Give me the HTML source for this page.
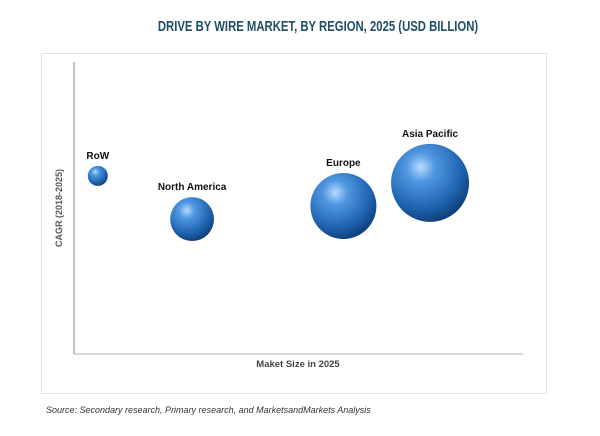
<!DOCTYPE html>
<html><head><meta charset="utf-8"><style>
body{margin:0;background:#fff;width:600px;height:431px;overflow:hidden;font-family:"Liberation Sans",sans-serif}
</style></head><body>
<svg width="600" height="431" viewBox="0 0 600 431" xmlns="http://www.w3.org/2000/svg">
<defs>
<radialGradient id="ball" cx="0.38" cy="0.3" r="0.75">
<stop offset="0" stop-color="#b9dcff"/>
<stop offset="0.25" stop-color="#4f97e0"/>
<stop offset="0.7" stop-color="#1f63b0"/>
<stop offset="1" stop-color="#0d3a73"/>
</radialGradient>
</defs>
<text x="318" y="31" text-anchor="middle" font-size="15" font-weight="bold" fill="#1f4e66" transform="translate(318 0) scale(0.755 1) translate(-318 0)">DRIVE BY WIRE MARKET, BY REGION, 2025 (USD BILLION)</text>
<rect x="41.5" y="53.5" width="505" height="340" fill="#fff" stroke="#e2e2e2"/>
<line x1="74" y1="62" x2="74" y2="354" stroke="#888"/>
<line x1="74" y1="354" x2="523" y2="354" stroke="#ccc" stroke-width="1.5"/>
<text x="0" y="0" transform="translate(62 208) rotate(-90)" text-anchor="middle" font-size="9" font-weight="bold" fill="#555">CAGR (2018-2025)</text>
<text x="298" y="367" text-anchor="middle" font-size="9.5" font-weight="bold" fill="#444">Maket Size in 2025</text>
<g id="bubbles"></g>
<text x="46" y="413" font-size="9" font-style="italic" fill="#333">Source: Secondary research, Primary research, and MarketsandMarkets Analysis</text>
</svg>
<script>
const regions=["RoW","North America","Europe","Asia Pacific"];
const marketSize=[5.3,26.3,60,79.3];
const cagr=[61,46.2,50.7,58.6];
const bubbleSize=[1.0,4.8,10.9,15.2];
const xS=v=>74+v*4.49, yS=v=>354-v*2.92, rS=v=>10*Math.sqrt(v);
const g=document.getElementById('bubbles');
const ns="http://www.w3.org/2000/svg";
regions.forEach((name,i)=>{
  const cx=xS(marketSize[i]),cy=yS(cagr[i]),r=rS(bubbleSize[i]);
  const c=document.createElementNS(ns,'circle');
  c.setAttribute('cx',cx);c.setAttribute('cy',cy);c.setAttribute('r',r);
  c.setAttribute('fill','url(#ball)');
  
  
  g.appendChild(c);
  const t=document.createElementNS(ns,'text');
  t.setAttribute('x',cx);t.setAttribute('y',cy-r-7);
  t.setAttribute('text-anchor','middle');t.setAttribute('font-size','10');
  t.setAttribute('font-weight','bold');t.setAttribute('fill','#111');
  t.textContent=name;
  
  
  g.appendChild(t);
});
</script>
</body></html>
